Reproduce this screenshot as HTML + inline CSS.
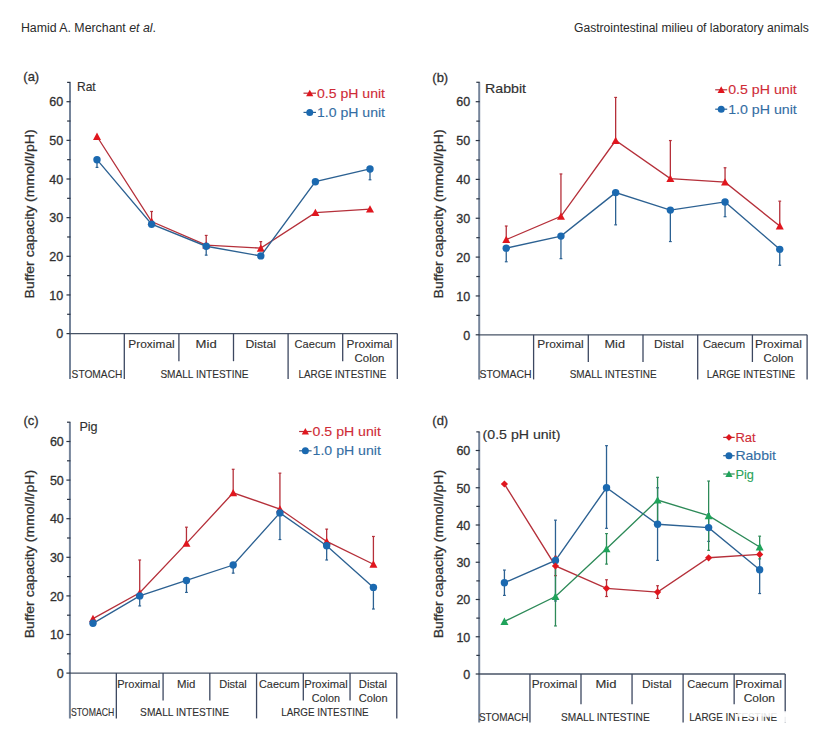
<!DOCTYPE html>
<html><head><meta charset="utf-8"><style>
html,body{margin:0;padding:0;background:#fff;width:815px;height:738px;overflow:hidden}
svg{display:block}
text{font-family:"Liberation Sans", sans-serif}
</style></head><body>
<svg width="815" height="738" viewBox="0 0 815 738" font-family='"Liberation Sans", sans-serif'>
<rect width="815" height="738" fill="#ffffff"/>
<text x="20.9" y="31.8" font-size="12" fill="#2a2a2a" textLength="135.1" lengthAdjust="spacingAndGlyphs">Hamid A. Merchant <tspan font-style="italic">et al</tspan>.</text>
<text x="574" y="31.8" font-size="12" fill="#2a2a2a" textLength="234.7" lengthAdjust="spacingAndGlyphs">Gastrointestinal milieu of laboratory animals</text>
<line x1="70.00" y1="82.38" x2="70.00" y2="379.00" stroke="#75849a" stroke-width="2.0"/>
<line x1="66.50" y1="333.60" x2="70.50" y2="333.60" stroke="#2a3444" stroke-width="1.2"/>
<line x1="67.10" y1="314.28" x2="70.50" y2="314.28" stroke="#2a3444" stroke-width="1.2"/>
<line x1="66.50" y1="294.95" x2="70.50" y2="294.95" stroke="#2a3444" stroke-width="1.2"/>
<line x1="67.10" y1="275.62" x2="70.50" y2="275.62" stroke="#2a3444" stroke-width="1.2"/>
<line x1="66.50" y1="256.30" x2="70.50" y2="256.30" stroke="#2a3444" stroke-width="1.2"/>
<line x1="67.10" y1="236.98" x2="70.50" y2="236.98" stroke="#2a3444" stroke-width="1.2"/>
<line x1="66.50" y1="217.65" x2="70.50" y2="217.65" stroke="#2a3444" stroke-width="1.2"/>
<line x1="67.10" y1="198.33" x2="70.50" y2="198.33" stroke="#2a3444" stroke-width="1.2"/>
<line x1="66.50" y1="179.00" x2="70.50" y2="179.00" stroke="#2a3444" stroke-width="1.2"/>
<line x1="67.10" y1="159.68" x2="70.50" y2="159.68" stroke="#2a3444" stroke-width="1.2"/>
<line x1="66.50" y1="140.35" x2="70.50" y2="140.35" stroke="#2a3444" stroke-width="1.2"/>
<line x1="67.10" y1="121.03" x2="70.50" y2="121.03" stroke="#2a3444" stroke-width="1.2"/>
<line x1="66.50" y1="101.70" x2="70.50" y2="101.70" stroke="#2a3444" stroke-width="1.2"/>
<line x1="67.10" y1="82.38" x2="70.50" y2="82.38" stroke="#2a3444" stroke-width="1.2"/>
<text x="63.10" y="338.35" font-size="12.5" fill="#303030" text-anchor="end" stroke="#303030" stroke-width="0.3">0</text>
<text x="63.10" y="299.70" font-size="12.5" fill="#303030" text-anchor="end" stroke="#303030" stroke-width="0.3">10</text>
<text x="63.10" y="261.05" font-size="12.5" fill="#303030" text-anchor="end" stroke="#303030" stroke-width="0.3">20</text>
<text x="63.10" y="222.40" font-size="12.5" fill="#303030" text-anchor="end" stroke="#303030" stroke-width="0.3">30</text>
<text x="63.10" y="183.75" font-size="12.5" fill="#303030" text-anchor="end" stroke="#303030" stroke-width="0.3">40</text>
<text x="63.10" y="145.10" font-size="12.5" fill="#303030" text-anchor="end" stroke="#303030" stroke-width="0.3">50</text>
<text x="63.10" y="106.45" font-size="12.5" fill="#303030" text-anchor="end" stroke="#303030" stroke-width="0.3">60</text>
<line x1="69.70" y1="333.60" x2="397.30" y2="333.60" stroke="#475366" stroke-width="1.3"/>
<line x1="124.30" y1="333.60" x2="124.30" y2="379.00" stroke="#3c4760" stroke-width="1.3"/>
<line x1="178.90" y1="333.60" x2="178.90" y2="361.20" stroke="#3c4760" stroke-width="1.3"/>
<line x1="233.50" y1="333.60" x2="233.50" y2="361.20" stroke="#3c4760" stroke-width="1.3"/>
<line x1="288.10" y1="333.60" x2="288.10" y2="379.00" stroke="#3c4760" stroke-width="1.3"/>
<line x1="342.70" y1="333.60" x2="342.70" y2="361.20" stroke="#3c4760" stroke-width="1.3"/>
<line x1="397.30" y1="333.60" x2="397.30" y2="379.00" stroke="#3c4760" stroke-width="1.3"/>
<text x="128.30" y="347.70" font-size="11.2" fill="#303030" textLength="46.4" lengthAdjust="spacingAndGlyphs" stroke="#303030" stroke-width="0.12">Proximal</text>
<text x="195.60" y="347.70" font-size="11.2" fill="#303030" textLength="21.1" lengthAdjust="spacingAndGlyphs" stroke="#303030" stroke-width="0.12">Mid</text>
<text x="245.40" y="347.70" font-size="11.2" fill="#303030" textLength="30.5" lengthAdjust="spacingAndGlyphs" stroke="#303030" stroke-width="0.12">Distal</text>
<text x="294.60" y="347.70" font-size="11.2" fill="#303030" textLength="41.2" lengthAdjust="spacingAndGlyphs" stroke="#303030" stroke-width="0.12">Caecum</text>
<text x="346.60" y="347.70" font-size="11.2" fill="#303030" textLength="45.9" lengthAdjust="spacingAndGlyphs" stroke="#303030" stroke-width="0.12">Proximal</text>
<text x="354.50" y="361.70" font-size="11.2" fill="#303030" textLength="29.9" lengthAdjust="spacingAndGlyphs" stroke="#303030" stroke-width="0.12">Colon</text>
<text x="71.60" y="378.30" font-size="11.2" fill="#303030" textLength="50.8" lengthAdjust="spacingAndGlyphs" stroke="#303030" stroke-width="0.12">STOMACH</text>
<text x="160.40" y="378.30" font-size="11.2" fill="#303030" textLength="88.2" lengthAdjust="spacingAndGlyphs" stroke="#303030" stroke-width="0.12">SMALL INTESTINE</text>
<text x="298.50" y="378.30" font-size="11.2" fill="#303030" textLength="87.8" lengthAdjust="spacingAndGlyphs" stroke="#303030" stroke-width="0.12">LARGE INTESTINE</text>
<text transform="translate(33.8,213.9) rotate(-90)" font-size="12.8" fill="#303030" stroke="#303030" stroke-width="0.25" text-anchor="middle" textLength="169" lengthAdjust="spacingAndGlyphs">Buffer capacity (mmol/l/pH)</text>
<text x="23.3" y="81.2" font-size="13" fill="#303030" stroke="#303030" stroke-width="0.3">(a)</text>
<text x="77" y="90.7" font-size="12.8" fill="#303030" textLength="18.7" lengthAdjust="spacingAndGlyphs" stroke="#303030" stroke-width="0.15">Rat</text>
<line x1="151.60" y1="221.52" x2="151.60" y2="211.47" stroke="#b5303a" stroke-width="1.3"/>
<line x1="150.20" y1="211.47" x2="153.00" y2="211.47" stroke="#b5303a" stroke-width="1.2"/>
<line x1="206.20" y1="245.09" x2="206.20" y2="235.43" stroke="#b5303a" stroke-width="1.3"/>
<line x1="204.80" y1="235.43" x2="207.60" y2="235.43" stroke="#b5303a" stroke-width="1.2"/>
<line x1="260.80" y1="248.18" x2="260.80" y2="241.61" stroke="#b5303a" stroke-width="1.3"/>
<line x1="259.40" y1="241.61" x2="262.20" y2="241.61" stroke="#b5303a" stroke-width="1.2"/>
<polyline points="97.00,136.49 151.60,221.52 206.20,245.09 260.80,248.18 315.40,212.63 370.00,209.15" fill="none" stroke="#b5303a" stroke-width="1.35"/>
<polygon points="97.00,132.58 93.00,139.94 101.00,139.94" fill="#e0161e"/>
<polygon points="151.60,217.61 147.60,224.97 155.60,224.97" fill="#e0161e"/>
<polygon points="206.20,241.19 202.20,248.55 210.20,248.55" fill="#e0161e"/>
<polygon points="260.80,244.28 256.80,251.64 264.80,251.64" fill="#e0161e"/>
<polygon points="315.40,208.72 311.40,216.08 319.40,216.08" fill="#e0161e"/>
<polygon points="370.00,205.25 366.00,212.61 374.00,212.61" fill="#e0161e"/>
<line x1="97.00" y1="159.68" x2="97.00" y2="167.41" stroke="#2c6192" stroke-width="1.3"/>
<line x1="95.60" y1="167.41" x2="98.40" y2="167.41" stroke="#2c6192" stroke-width="1.2"/>
<line x1="206.20" y1="246.25" x2="206.20" y2="255.14" stroke="#2c6192" stroke-width="1.3"/>
<line x1="204.80" y1="255.14" x2="207.60" y2="255.14" stroke="#2c6192" stroke-width="1.2"/>
<line x1="370.00" y1="168.95" x2="370.00" y2="179.77" stroke="#2c6192" stroke-width="1.3"/>
<line x1="368.60" y1="179.77" x2="371.40" y2="179.77" stroke="#2c6192" stroke-width="1.2"/>
<polyline points="97.00,159.68 151.60,224.22 206.20,246.25 260.80,255.91 315.40,181.71 370.00,168.95" fill="none" stroke="#2c6192" stroke-width="1.35"/>
<circle cx="97.00" cy="159.68" r="3.7" fill="#1b69b0"/>
<circle cx="151.60" cy="224.22" r="3.7" fill="#1b69b0"/>
<circle cx="206.20" cy="246.25" r="3.7" fill="#1b69b0"/>
<circle cx="260.80" cy="255.91" r="3.7" fill="#1b69b0"/>
<circle cx="315.40" cy="181.71" r="3.7" fill="#1b69b0"/>
<circle cx="370.00" cy="168.95" r="3.7" fill="#1b69b0"/>
<line x1="303.50" y1="93.20" x2="316.00" y2="93.20" stroke="#b5303a" stroke-width="1.2"/>
<polygon points="309.75,89.69 306.15,96.31 313.35,96.31" fill="#e0161e"/>
<text x="317.00" y="97.70" font-size="12.8" fill="#cf2b36" textLength="68" lengthAdjust="spacingAndGlyphs" stroke="#cf2b36" stroke-width="0.1">0.5 pH unit</text>
<line x1="303.50" y1="112.40" x2="316.00" y2="112.40" stroke="#2c6192" stroke-width="1.2"/>
<circle cx="309.75" cy="112.40" r="3.5" fill="#1b69b0"/>
<text x="317.00" y="116.90" font-size="12.8" fill="#336da3" textLength="68" lengthAdjust="spacingAndGlyphs" stroke="#336da3" stroke-width="0.1">1.0 pH unit</text>
<line x1="479.20" y1="82.28" x2="479.20" y2="379.40" stroke="#75849a" stroke-width="2.0"/>
<line x1="475.70" y1="334.80" x2="479.70" y2="334.80" stroke="#2a3444" stroke-width="1.2"/>
<line x1="476.30" y1="315.38" x2="479.70" y2="315.38" stroke="#2a3444" stroke-width="1.2"/>
<line x1="475.70" y1="295.95" x2="479.70" y2="295.95" stroke="#2a3444" stroke-width="1.2"/>
<line x1="476.30" y1="276.53" x2="479.70" y2="276.53" stroke="#2a3444" stroke-width="1.2"/>
<line x1="475.70" y1="257.10" x2="479.70" y2="257.10" stroke="#2a3444" stroke-width="1.2"/>
<line x1="476.30" y1="237.68" x2="479.70" y2="237.68" stroke="#2a3444" stroke-width="1.2"/>
<line x1="475.70" y1="218.25" x2="479.70" y2="218.25" stroke="#2a3444" stroke-width="1.2"/>
<line x1="476.30" y1="198.83" x2="479.70" y2="198.83" stroke="#2a3444" stroke-width="1.2"/>
<line x1="475.70" y1="179.40" x2="479.70" y2="179.40" stroke="#2a3444" stroke-width="1.2"/>
<line x1="476.30" y1="159.98" x2="479.70" y2="159.98" stroke="#2a3444" stroke-width="1.2"/>
<line x1="475.70" y1="140.55" x2="479.70" y2="140.55" stroke="#2a3444" stroke-width="1.2"/>
<line x1="476.30" y1="121.13" x2="479.70" y2="121.13" stroke="#2a3444" stroke-width="1.2"/>
<line x1="475.70" y1="101.70" x2="479.70" y2="101.70" stroke="#2a3444" stroke-width="1.2"/>
<line x1="476.30" y1="82.28" x2="479.70" y2="82.28" stroke="#2a3444" stroke-width="1.2"/>
<text x="470.10" y="339.55" font-size="12.5" fill="#303030" text-anchor="end" stroke="#303030" stroke-width="0.3">0</text>
<text x="470.10" y="300.70" font-size="12.5" fill="#303030" text-anchor="end" stroke="#303030" stroke-width="0.3">10</text>
<text x="470.10" y="261.85" font-size="12.5" fill="#303030" text-anchor="end" stroke="#303030" stroke-width="0.3">20</text>
<text x="470.10" y="223.00" font-size="12.5" fill="#303030" text-anchor="end" stroke="#303030" stroke-width="0.3">30</text>
<text x="470.10" y="184.15" font-size="12.5" fill="#303030" text-anchor="end" stroke="#303030" stroke-width="0.3">40</text>
<text x="470.10" y="145.30" font-size="12.5" fill="#303030" text-anchor="end" stroke="#303030" stroke-width="0.3">50</text>
<text x="470.10" y="106.45" font-size="12.5" fill="#303030" text-anchor="end" stroke="#303030" stroke-width="0.3">60</text>
<line x1="478.90" y1="334.80" x2="807.10" y2="334.80" stroke="#475366" stroke-width="1.3"/>
<line x1="533.60" y1="334.80" x2="533.60" y2="379.40" stroke="#3c4760" stroke-width="1.3"/>
<line x1="588.30" y1="334.80" x2="588.30" y2="362.00" stroke="#3c4760" stroke-width="1.3"/>
<line x1="643.00" y1="334.80" x2="643.00" y2="362.00" stroke="#3c4760" stroke-width="1.3"/>
<line x1="697.70" y1="334.80" x2="697.70" y2="379.40" stroke="#3c4760" stroke-width="1.3"/>
<line x1="752.40" y1="334.80" x2="752.40" y2="362.00" stroke="#3c4760" stroke-width="1.3"/>
<line x1="807.10" y1="334.80" x2="807.10" y2="379.40" stroke="#3c4760" stroke-width="1.3"/>
<text x="537.30" y="348.10" font-size="11.2" fill="#303030" textLength="46.4" lengthAdjust="spacingAndGlyphs" stroke="#303030" stroke-width="0.12">Proximal</text>
<text x="604.50" y="348.10" font-size="11.2" fill="#303030" textLength="20.5" lengthAdjust="spacingAndGlyphs" stroke="#303030" stroke-width="0.12">Mid</text>
<text x="654.10" y="348.10" font-size="11.2" fill="#303030" textLength="29.8" lengthAdjust="spacingAndGlyphs" stroke="#303030" stroke-width="0.12">Distal</text>
<text x="702.90" y="348.10" font-size="11.2" fill="#303030" textLength="42.2" lengthAdjust="spacingAndGlyphs" stroke="#303030" stroke-width="0.12">Caecum</text>
<text x="755.10" y="348.10" font-size="11.2" fill="#303030" textLength="46.7" lengthAdjust="spacingAndGlyphs" stroke="#303030" stroke-width="0.12">Proximal</text>
<text x="763.50" y="362.00" font-size="11.2" fill="#303030" textLength="29.9" lengthAdjust="spacingAndGlyphs" stroke="#303030" stroke-width="0.12">Colon</text>
<text x="479.40" y="377.60" font-size="11.2" fill="#303030" textLength="52.3" lengthAdjust="spacingAndGlyphs" stroke="#303030" stroke-width="0.12">STOMACH</text>
<text x="569.70" y="377.60" font-size="11.2" fill="#303030" textLength="87" lengthAdjust="spacingAndGlyphs" stroke="#303030" stroke-width="0.12">SMALL INTESTINE</text>
<text x="706.80" y="377.60" font-size="11.2" fill="#303030" textLength="88.4" lengthAdjust="spacingAndGlyphs" stroke="#303030" stroke-width="0.12">LARGE INTESTINE</text>
<text transform="translate(442.9,213.9) rotate(-90)" font-size="12.8" fill="#303030" stroke="#303030" stroke-width="0.25" text-anchor="middle" textLength="169" lengthAdjust="spacingAndGlyphs">Buffer capacity (mmol/l/pH)</text>
<text x="432.3" y="81.5" font-size="13" fill="#303030" stroke="#303030" stroke-width="0.3">(b)</text>
<text x="485" y="93.2" font-size="12.8" fill="#303030" textLength="41" lengthAdjust="spacingAndGlyphs" stroke="#303030" stroke-width="0.15">Rabbit</text>
<line x1="506.25" y1="239.62" x2="506.25" y2="226.02" stroke="#b5303a" stroke-width="1.3"/>
<line x1="504.85" y1="226.02" x2="507.65" y2="226.02" stroke="#b5303a" stroke-width="1.2"/>
<line x1="560.95" y1="216.31" x2="560.95" y2="173.96" stroke="#b5303a" stroke-width="1.3"/>
<line x1="559.55" y1="173.96" x2="562.35" y2="173.96" stroke="#b5303a" stroke-width="1.2"/>
<line x1="615.65" y1="140.55" x2="615.65" y2="97.43" stroke="#b5303a" stroke-width="1.3"/>
<line x1="614.25" y1="97.43" x2="617.05" y2="97.43" stroke="#b5303a" stroke-width="1.2"/>
<line x1="670.35" y1="178.62" x2="670.35" y2="140.55" stroke="#b5303a" stroke-width="1.3"/>
<line x1="668.95" y1="140.55" x2="671.75" y2="140.55" stroke="#b5303a" stroke-width="1.2"/>
<line x1="725.05" y1="182.12" x2="725.05" y2="167.75" stroke="#b5303a" stroke-width="1.3"/>
<line x1="723.65" y1="167.75" x2="726.45" y2="167.75" stroke="#b5303a" stroke-width="1.2"/>
<line x1="779.75" y1="226.02" x2="779.75" y2="201.16" stroke="#b5303a" stroke-width="1.3"/>
<line x1="778.35" y1="201.16" x2="781.15" y2="201.16" stroke="#b5303a" stroke-width="1.2"/>
<polyline points="506.25,239.62 560.95,216.31 615.65,140.55 670.35,178.62 725.05,182.12 779.75,226.02" fill="none" stroke="#b5303a" stroke-width="1.35"/>
<polygon points="506.25,235.72 502.25,243.08 510.25,243.08" fill="#e0161e"/>
<polygon points="560.95,212.41 556.95,219.77 564.95,219.77" fill="#e0161e"/>
<polygon points="615.65,136.65 611.65,144.01 619.65,144.01" fill="#e0161e"/>
<polygon points="670.35,174.72 666.35,182.08 674.35,182.08" fill="#e0161e"/>
<polygon points="725.05,178.22 721.05,185.58 729.05,185.58" fill="#e0161e"/>
<polygon points="779.75,222.12 775.75,229.48 783.75,229.48" fill="#e0161e"/>
<line x1="506.25" y1="248.16" x2="506.25" y2="261.76" stroke="#2c6192" stroke-width="1.3"/>
<line x1="504.85" y1="261.76" x2="507.65" y2="261.76" stroke="#2c6192" stroke-width="1.2"/>
<line x1="560.95" y1="236.12" x2="560.95" y2="258.65" stroke="#2c6192" stroke-width="1.3"/>
<line x1="559.55" y1="258.65" x2="562.35" y2="258.65" stroke="#2c6192" stroke-width="1.2"/>
<line x1="615.65" y1="192.61" x2="615.65" y2="224.85" stroke="#2c6192" stroke-width="1.3"/>
<line x1="614.25" y1="224.85" x2="617.05" y2="224.85" stroke="#2c6192" stroke-width="1.2"/>
<line x1="670.35" y1="210.09" x2="670.35" y2="241.56" stroke="#2c6192" stroke-width="1.3"/>
<line x1="668.95" y1="241.56" x2="671.75" y2="241.56" stroke="#2c6192" stroke-width="1.2"/>
<line x1="725.05" y1="201.93" x2="725.05" y2="216.70" stroke="#2c6192" stroke-width="1.3"/>
<line x1="723.65" y1="216.70" x2="726.45" y2="216.70" stroke="#2c6192" stroke-width="1.2"/>
<line x1="779.75" y1="249.33" x2="779.75" y2="265.26" stroke="#2c6192" stroke-width="1.3"/>
<line x1="778.35" y1="265.26" x2="781.15" y2="265.26" stroke="#2c6192" stroke-width="1.2"/>
<polyline points="506.25,248.16 560.95,236.12 615.65,192.61 670.35,210.09 725.05,201.93 779.75,249.33" fill="none" stroke="#2c6192" stroke-width="1.35"/>
<circle cx="506.25" cy="248.16" r="3.7" fill="#1b69b0"/>
<circle cx="560.95" cy="236.12" r="3.7" fill="#1b69b0"/>
<circle cx="615.65" cy="192.61" r="3.7" fill="#1b69b0"/>
<circle cx="670.35" cy="210.09" r="3.7" fill="#1b69b0"/>
<circle cx="725.05" cy="201.93" r="3.7" fill="#1b69b0"/>
<circle cx="779.75" cy="249.33" r="3.7" fill="#1b69b0"/>
<line x1="715.20" y1="89.80" x2="727.20" y2="89.80" stroke="#b5303a" stroke-width="1.2"/>
<polygon points="721.20,86.29 717.60,92.91 724.80,92.91" fill="#e0161e"/>
<text x="728.20" y="94.30" font-size="12.8" fill="#cf2b36" textLength="68.6" lengthAdjust="spacingAndGlyphs" stroke="#cf2b36" stroke-width="0.1">0.5 pH unit</text>
<line x1="715.20" y1="109.20" x2="727.20" y2="109.20" stroke="#2c6192" stroke-width="1.2"/>
<circle cx="721.20" cy="109.20" r="3.5" fill="#1b69b0"/>
<text x="728.20" y="113.70" font-size="12.8" fill="#336da3" textLength="68.6" lengthAdjust="spacingAndGlyphs" stroke="#336da3" stroke-width="0.1">1.0 pH unit</text>
<line x1="69.90" y1="422.20" x2="69.90" y2="718.40" stroke="#75849a" stroke-width="2.0"/>
<line x1="66.40" y1="673.10" x2="70.40" y2="673.10" stroke="#2a3444" stroke-width="1.2"/>
<line x1="67.00" y1="653.80" x2="70.40" y2="653.80" stroke="#2a3444" stroke-width="1.2"/>
<line x1="66.40" y1="634.50" x2="70.40" y2="634.50" stroke="#2a3444" stroke-width="1.2"/>
<line x1="67.00" y1="615.20" x2="70.40" y2="615.20" stroke="#2a3444" stroke-width="1.2"/>
<line x1="66.40" y1="595.90" x2="70.40" y2="595.90" stroke="#2a3444" stroke-width="1.2"/>
<line x1="67.00" y1="576.60" x2="70.40" y2="576.60" stroke="#2a3444" stroke-width="1.2"/>
<line x1="66.40" y1="557.30" x2="70.40" y2="557.30" stroke="#2a3444" stroke-width="1.2"/>
<line x1="67.00" y1="538.00" x2="70.40" y2="538.00" stroke="#2a3444" stroke-width="1.2"/>
<line x1="66.40" y1="518.70" x2="70.40" y2="518.70" stroke="#2a3444" stroke-width="1.2"/>
<line x1="67.00" y1="499.40" x2="70.40" y2="499.40" stroke="#2a3444" stroke-width="1.2"/>
<line x1="66.40" y1="480.10" x2="70.40" y2="480.10" stroke="#2a3444" stroke-width="1.2"/>
<line x1="67.00" y1="460.80" x2="70.40" y2="460.80" stroke="#2a3444" stroke-width="1.2"/>
<line x1="66.40" y1="441.50" x2="70.40" y2="441.50" stroke="#2a3444" stroke-width="1.2"/>
<line x1="67.00" y1="422.20" x2="70.40" y2="422.20" stroke="#2a3444" stroke-width="1.2"/>
<text x="63.80" y="677.85" font-size="12.5" fill="#303030" text-anchor="end" stroke="#303030" stroke-width="0.3">0</text>
<text x="63.80" y="639.25" font-size="12.5" fill="#303030" text-anchor="end" stroke="#303030" stroke-width="0.3">10</text>
<text x="63.80" y="600.65" font-size="12.5" fill="#303030" text-anchor="end" stroke="#303030" stroke-width="0.3">20</text>
<text x="63.80" y="562.05" font-size="12.5" fill="#303030" text-anchor="end" stroke="#303030" stroke-width="0.3">30</text>
<text x="63.80" y="523.45" font-size="12.5" fill="#303030" text-anchor="end" stroke="#303030" stroke-width="0.3">40</text>
<text x="63.80" y="484.85" font-size="12.5" fill="#303030" text-anchor="end" stroke="#303030" stroke-width="0.3">50</text>
<text x="63.80" y="446.25" font-size="12.5" fill="#303030" text-anchor="end" stroke="#303030" stroke-width="0.3">60</text>
<line x1="69.60" y1="673.10" x2="396.78" y2="673.10" stroke="#475366" stroke-width="1.3"/>
<line x1="116.34" y1="673.10" x2="116.34" y2="718.40" stroke="#3c4760" stroke-width="1.3"/>
<line x1="163.08" y1="673.10" x2="163.08" y2="700.60" stroke="#3c4760" stroke-width="1.3"/>
<line x1="209.82" y1="673.10" x2="209.82" y2="700.60" stroke="#3c4760" stroke-width="1.3"/>
<line x1="256.56" y1="673.10" x2="256.56" y2="718.40" stroke="#3c4760" stroke-width="1.3"/>
<line x1="303.30" y1="673.10" x2="303.30" y2="700.60" stroke="#3c4760" stroke-width="1.3"/>
<line x1="350.04" y1="673.10" x2="350.04" y2="700.60" stroke="#3c4760" stroke-width="1.3"/>
<line x1="396.78" y1="673.10" x2="396.78" y2="718.40" stroke="#3c4760" stroke-width="1.3"/>
<text x="117.20" y="688.30" font-size="11.2" fill="#303030" textLength="43" lengthAdjust="spacingAndGlyphs" stroke="#303030" stroke-width="0.12">Proximal</text>
<text x="176.90" y="688.30" font-size="11.2" fill="#303030" textLength="18.4" lengthAdjust="spacingAndGlyphs" stroke="#303030" stroke-width="0.12">Mid</text>
<text x="219.20" y="688.30" font-size="11.2" fill="#303030" textLength="27.6" lengthAdjust="spacingAndGlyphs" stroke="#303030" stroke-width="0.12">Distal</text>
<text x="259.00" y="688.30" font-size="11.2" fill="#303030" textLength="40.6" lengthAdjust="spacingAndGlyphs" stroke="#303030" stroke-width="0.12">Caecum</text>
<text x="304.20" y="688.30" font-size="11.2" fill="#303030" textLength="43.5" lengthAdjust="spacingAndGlyphs" stroke="#303030" stroke-width="0.12">Proximal</text>
<text x="311.80" y="702.30" font-size="11.2" fill="#303030" textLength="28.2" lengthAdjust="spacingAndGlyphs" stroke="#303030" stroke-width="0.12">Colon</text>
<text x="358.80" y="688.30" font-size="11.2" fill="#303030" textLength="28.2" lengthAdjust="spacingAndGlyphs" stroke="#303030" stroke-width="0.12">Distal</text>
<text x="358.80" y="702.30" font-size="11.2" fill="#303030" textLength="28.8" lengthAdjust="spacingAndGlyphs" stroke="#303030" stroke-width="0.12">Colon</text>
<text x="70.90" y="716.20" font-size="11.2" fill="#303030" textLength="43.4" lengthAdjust="spacingAndGlyphs" stroke="#303030" stroke-width="0.12">STOMACH</text>
<text x="140.10" y="716.20" font-size="11.2" fill="#303030" textLength="88.9" lengthAdjust="spacingAndGlyphs" stroke="#303030" stroke-width="0.12">SMALL INTESTINE</text>
<text x="281.20" y="716.20" font-size="11.2" fill="#303030" textLength="87.4" lengthAdjust="spacingAndGlyphs" stroke="#303030" stroke-width="0.12">LARGE INTESTINE</text>
<text transform="translate(33.6,554.1) rotate(-90)" font-size="12.8" fill="#303030" stroke="#303030" stroke-width="0.25" text-anchor="middle" textLength="168.4" lengthAdjust="spacingAndGlyphs">Buffer capacity (mmol/l/pH)</text>
<text x="23.5" y="425" font-size="13" fill="#303030" stroke="#303030" stroke-width="0.3">(c)</text>
<text x="79.4" y="431.2" font-size="12.8" fill="#303030" textLength="18.2" lengthAdjust="spacingAndGlyphs" stroke="#303030" stroke-width="0.15">Pig</text>
<line x1="139.71" y1="592.81" x2="139.71" y2="560.00" stroke="#b5303a" stroke-width="1.3"/>
<line x1="138.31" y1="560.00" x2="141.11" y2="560.00" stroke="#b5303a" stroke-width="1.2"/>
<line x1="186.45" y1="543.40" x2="186.45" y2="527.19" stroke="#b5303a" stroke-width="1.3"/>
<line x1="185.05" y1="527.19" x2="187.85" y2="527.19" stroke="#b5303a" stroke-width="1.2"/>
<line x1="233.19" y1="492.84" x2="233.19" y2="469.29" stroke="#b5303a" stroke-width="1.3"/>
<line x1="231.79" y1="469.29" x2="234.59" y2="469.29" stroke="#b5303a" stroke-width="1.2"/>
<line x1="279.93" y1="509.05" x2="279.93" y2="473.15" stroke="#b5303a" stroke-width="1.3"/>
<line x1="278.53" y1="473.15" x2="281.33" y2="473.15" stroke="#b5303a" stroke-width="1.2"/>
<line x1="326.67" y1="541.47" x2="326.67" y2="529.12" stroke="#b5303a" stroke-width="1.3"/>
<line x1="325.27" y1="529.12" x2="328.07" y2="529.12" stroke="#b5303a" stroke-width="1.2"/>
<line x1="373.41" y1="564.25" x2="373.41" y2="536.46" stroke="#b5303a" stroke-width="1.3"/>
<line x1="372.01" y1="536.46" x2="374.81" y2="536.46" stroke="#b5303a" stroke-width="1.2"/>
<polyline points="92.97,618.67 139.71,592.81 186.45,543.40 233.19,492.84 279.93,509.05 326.67,541.47 373.41,564.25" fill="none" stroke="#b5303a" stroke-width="1.35"/>
<polygon points="92.97,614.77 88.97,622.13 96.97,622.13" fill="#e0161e"/>
<polygon points="139.71,588.91 135.71,596.27 143.71,596.27" fill="#e0161e"/>
<polygon points="186.45,539.50 182.45,546.86 190.45,546.86" fill="#e0161e"/>
<polygon points="233.19,488.94 229.19,496.30 237.19,496.30" fill="#e0161e"/>
<polygon points="279.93,505.15 275.93,512.51 283.93,512.51" fill="#e0161e"/>
<polygon points="326.67,537.57 322.67,544.93 330.67,544.93" fill="#e0161e"/>
<polygon points="373.41,560.35 369.41,567.71 377.41,567.71" fill="#e0161e"/>
<line x1="139.71" y1="595.90" x2="139.71" y2="605.94" stroke="#2c6192" stroke-width="1.3"/>
<line x1="138.31" y1="605.94" x2="141.11" y2="605.94" stroke="#2c6192" stroke-width="1.2"/>
<line x1="186.45" y1="580.46" x2="186.45" y2="592.43" stroke="#2c6192" stroke-width="1.3"/>
<line x1="185.05" y1="592.43" x2="187.85" y2="592.43" stroke="#2c6192" stroke-width="1.2"/>
<line x1="233.19" y1="565.02" x2="233.19" y2="573.13" stroke="#2c6192" stroke-width="1.3"/>
<line x1="231.79" y1="573.13" x2="234.59" y2="573.13" stroke="#2c6192" stroke-width="1.2"/>
<line x1="279.93" y1="512.91" x2="279.93" y2="539.54" stroke="#2c6192" stroke-width="1.3"/>
<line x1="278.53" y1="539.54" x2="281.33" y2="539.54" stroke="#2c6192" stroke-width="1.2"/>
<line x1="326.67" y1="545.72" x2="326.67" y2="560.00" stroke="#2c6192" stroke-width="1.3"/>
<line x1="325.27" y1="560.00" x2="328.07" y2="560.00" stroke="#2c6192" stroke-width="1.2"/>
<line x1="373.41" y1="587.41" x2="373.41" y2="609.02" stroke="#2c6192" stroke-width="1.3"/>
<line x1="372.01" y1="609.02" x2="374.81" y2="609.02" stroke="#2c6192" stroke-width="1.2"/>
<polyline points="92.97,623.31 139.71,595.90 186.45,580.46 233.19,565.02 279.93,512.91 326.67,545.72 373.41,587.41" fill="none" stroke="#2c6192" stroke-width="1.35"/>
<circle cx="92.97" cy="623.31" r="3.7" fill="#1b69b0"/>
<circle cx="139.71" cy="595.90" r="3.7" fill="#1b69b0"/>
<circle cx="186.45" cy="580.46" r="3.7" fill="#1b69b0"/>
<circle cx="233.19" cy="565.02" r="3.7" fill="#1b69b0"/>
<circle cx="279.93" cy="512.91" r="3.7" fill="#1b69b0"/>
<circle cx="326.67" cy="545.72" r="3.7" fill="#1b69b0"/>
<circle cx="373.41" cy="587.41" r="3.7" fill="#1b69b0"/>
<line x1="299.10" y1="431.50" x2="311.60" y2="431.50" stroke="#b5303a" stroke-width="1.2"/>
<polygon points="305.35,427.99 301.75,434.61 308.95,434.61" fill="#e0161e"/>
<text x="312.60" y="436.00" font-size="12.8" fill="#cf2b36" textLength="68.3" lengthAdjust="spacingAndGlyphs" stroke="#cf2b36" stroke-width="0.1">0.5 pH unit</text>
<line x1="299.10" y1="450.80" x2="311.60" y2="450.80" stroke="#2c6192" stroke-width="1.2"/>
<circle cx="305.35" cy="450.80" r="3.5" fill="#1b69b0"/>
<text x="312.60" y="455.30" font-size="12.8" fill="#336da3" textLength="68.3" lengthAdjust="spacingAndGlyphs" stroke="#336da3" stroke-width="0.1">1.0 pH unit</text>
<line x1="479.20" y1="431.88" x2="479.20" y2="722.40" stroke="#75849a" stroke-width="2.0"/>
<line x1="475.70" y1="674.00" x2="479.70" y2="674.00" stroke="#2a3444" stroke-width="1.2"/>
<line x1="476.30" y1="655.38" x2="479.70" y2="655.38" stroke="#2a3444" stroke-width="1.2"/>
<line x1="475.70" y1="636.75" x2="479.70" y2="636.75" stroke="#2a3444" stroke-width="1.2"/>
<line x1="476.30" y1="618.12" x2="479.70" y2="618.12" stroke="#2a3444" stroke-width="1.2"/>
<line x1="475.70" y1="599.50" x2="479.70" y2="599.50" stroke="#2a3444" stroke-width="1.2"/>
<line x1="476.30" y1="580.88" x2="479.70" y2="580.88" stroke="#2a3444" stroke-width="1.2"/>
<line x1="475.70" y1="562.25" x2="479.70" y2="562.25" stroke="#2a3444" stroke-width="1.2"/>
<line x1="476.30" y1="543.62" x2="479.70" y2="543.62" stroke="#2a3444" stroke-width="1.2"/>
<line x1="475.70" y1="525.00" x2="479.70" y2="525.00" stroke="#2a3444" stroke-width="1.2"/>
<line x1="476.30" y1="506.38" x2="479.70" y2="506.38" stroke="#2a3444" stroke-width="1.2"/>
<line x1="475.70" y1="487.75" x2="479.70" y2="487.75" stroke="#2a3444" stroke-width="1.2"/>
<line x1="476.30" y1="469.12" x2="479.70" y2="469.12" stroke="#2a3444" stroke-width="1.2"/>
<line x1="475.70" y1="450.50" x2="479.70" y2="450.50" stroke="#2a3444" stroke-width="1.2"/>
<line x1="476.30" y1="431.88" x2="479.70" y2="431.88" stroke="#2a3444" stroke-width="1.2"/>
<text x="470.30" y="678.75" font-size="12.5" fill="#303030" text-anchor="end" stroke="#303030" stroke-width="0.3">0</text>
<text x="470.30" y="641.50" font-size="12.5" fill="#303030" text-anchor="end" stroke="#303030" stroke-width="0.3">10</text>
<text x="470.30" y="604.25" font-size="12.5" fill="#303030" text-anchor="end" stroke="#303030" stroke-width="0.3">20</text>
<text x="470.30" y="567.00" font-size="12.5" fill="#303030" text-anchor="end" stroke="#303030" stroke-width="0.3">30</text>
<text x="470.30" y="529.75" font-size="12.5" fill="#303030" text-anchor="end" stroke="#303030" stroke-width="0.3">40</text>
<text x="470.30" y="492.50" font-size="12.5" fill="#303030" text-anchor="end" stroke="#303030" stroke-width="0.3">50</text>
<text x="470.30" y="455.25" font-size="12.5" fill="#303030" text-anchor="end" stroke="#303030" stroke-width="0.3">60</text>
<line x1="478.90" y1="674.00" x2="785.20" y2="674.00" stroke="#475366" stroke-width="1.3"/>
<line x1="529.95" y1="674.00" x2="529.95" y2="722.40" stroke="#3c4760" stroke-width="1.3"/>
<line x1="581.00" y1="674.00" x2="581.00" y2="704.30" stroke="#3c4760" stroke-width="1.3"/>
<line x1="632.05" y1="674.00" x2="632.05" y2="704.30" stroke="#3c4760" stroke-width="1.3"/>
<line x1="683.10" y1="674.00" x2="683.10" y2="722.40" stroke="#3c4760" stroke-width="1.3"/>
<line x1="734.15" y1="674.00" x2="734.15" y2="704.30" stroke="#3c4760" stroke-width="1.3"/>
<line x1="785.20" y1="674.00" x2="785.20" y2="722.40" stroke="#3c4760" stroke-width="1.3"/>
<text x="531.70" y="687.80" font-size="11.2" fill="#303030" textLength="45.8" lengthAdjust="spacingAndGlyphs" stroke="#303030" stroke-width="0.12">Proximal</text>
<text x="595.50" y="687.80" font-size="11.2" fill="#303030" textLength="21" lengthAdjust="spacingAndGlyphs" stroke="#303030" stroke-width="0.12">Mid</text>
<text x="642.10" y="687.80" font-size="11.2" fill="#303030" textLength="29.5" lengthAdjust="spacingAndGlyphs" stroke="#303030" stroke-width="0.12">Distal</text>
<text x="687.20" y="687.80" font-size="11.2" fill="#303030" textLength="41.2" lengthAdjust="spacingAndGlyphs" stroke="#303030" stroke-width="0.12">Caecum</text>
<text x="735.30" y="687.80" font-size="11.2" fill="#303030" textLength="46.6" lengthAdjust="spacingAndGlyphs" stroke="#303030" stroke-width="0.12">Proximal</text>
<text x="743.70" y="701.60" font-size="11.2" fill="#303030" textLength="31.3" lengthAdjust="spacingAndGlyphs" stroke="#303030" stroke-width="0.12">Colon</text>
<text x="478.90" y="721.20" font-size="11.2" fill="#303030" textLength="49.6" lengthAdjust="spacingAndGlyphs" stroke="#303030" stroke-width="0.12">STOMACH</text>
<text x="561.10" y="721.20" font-size="11.2" fill="#303030" textLength="88.6" lengthAdjust="spacingAndGlyphs" stroke="#303030" stroke-width="0.12">SMALL INTESTINE</text>
<text x="689.30" y="721.20" font-size="11.2" fill="#303030" textLength="87.8" lengthAdjust="spacingAndGlyphs" stroke="#303030" stroke-width="0.12">LARGE INTESTINE</text>
<text transform="translate(442.7,554.1) rotate(-90)" font-size="12.8" fill="#303030" stroke="#303030" stroke-width="0.25" text-anchor="middle" textLength="168.4" lengthAdjust="spacingAndGlyphs">Buffer capacity (mmol/l/pH)</text>
<text x="432.3" y="425" font-size="13" fill="#303030" stroke="#303030" stroke-width="0.3">(d)</text>
<text x="482.6" y="439" font-size="12.8" fill="#303030" textLength="77.8" lengthAdjust="spacingAndGlyphs" stroke="#303030" stroke-width="0.15">(0.5 pH unit)</text>
<line x1="504.42" y1="582.74" x2="504.42" y2="570.07" stroke="#2c6192" stroke-width="1.3"/>
<line x1="503.02" y1="570.07" x2="505.82" y2="570.07" stroke="#2c6192" stroke-width="1.2"/>
<line x1="504.42" y1="582.74" x2="504.42" y2="595.40" stroke="#2c6192" stroke-width="1.3"/>
<line x1="503.02" y1="595.40" x2="505.82" y2="595.40" stroke="#2c6192" stroke-width="1.2"/>
<line x1="555.47" y1="560.39" x2="555.47" y2="520.16" stroke="#2c6192" stroke-width="1.3"/>
<line x1="554.07" y1="520.16" x2="556.87" y2="520.16" stroke="#2c6192" stroke-width="1.2"/>
<line x1="555.47" y1="560.39" x2="555.47" y2="600.99" stroke="#2c6192" stroke-width="1.3"/>
<line x1="554.07" y1="600.99" x2="556.87" y2="600.99" stroke="#2c6192" stroke-width="1.2"/>
<line x1="606.52" y1="487.75" x2="606.52" y2="445.66" stroke="#2c6192" stroke-width="1.3"/>
<line x1="605.12" y1="445.66" x2="607.92" y2="445.66" stroke="#2c6192" stroke-width="1.2"/>
<line x1="606.52" y1="487.75" x2="606.52" y2="528.35" stroke="#2c6192" stroke-width="1.3"/>
<line x1="605.12" y1="528.35" x2="607.92" y2="528.35" stroke="#2c6192" stroke-width="1.2"/>
<line x1="657.57" y1="524.25" x2="657.57" y2="487.75" stroke="#2c6192" stroke-width="1.3"/>
<line x1="656.17" y1="487.75" x2="658.97" y2="487.75" stroke="#2c6192" stroke-width="1.2"/>
<line x1="657.57" y1="524.25" x2="657.57" y2="560.39" stroke="#2c6192" stroke-width="1.3"/>
<line x1="656.17" y1="560.39" x2="658.97" y2="560.39" stroke="#2c6192" stroke-width="1.2"/>
<line x1="708.62" y1="527.61" x2="708.62" y2="513.83" stroke="#2c6192" stroke-width="1.3"/>
<line x1="707.23" y1="513.83" x2="710.02" y2="513.83" stroke="#2c6192" stroke-width="1.2"/>
<line x1="708.62" y1="527.61" x2="708.62" y2="541.39" stroke="#2c6192" stroke-width="1.3"/>
<line x1="707.23" y1="541.39" x2="710.02" y2="541.39" stroke="#2c6192" stroke-width="1.2"/>
<line x1="759.67" y1="569.70" x2="759.67" y2="545.86" stroke="#2c6192" stroke-width="1.3"/>
<line x1="758.27" y1="545.86" x2="761.07" y2="545.86" stroke="#2c6192" stroke-width="1.2"/>
<line x1="759.67" y1="569.70" x2="759.67" y2="593.54" stroke="#2c6192" stroke-width="1.3"/>
<line x1="758.27" y1="593.54" x2="761.07" y2="593.54" stroke="#2c6192" stroke-width="1.2"/>
<polyline points="504.42,582.74 555.47,560.39 606.52,487.75 657.57,524.25 708.62,527.61 759.67,569.70" fill="none" stroke="#2c6192" stroke-width="1.35"/>
<line x1="555.47" y1="565.98" x2="555.47" y2="556.29" stroke="#b5303a" stroke-width="1.3"/>
<line x1="554.07" y1="556.29" x2="556.87" y2="556.29" stroke="#b5303a" stroke-width="1.2"/>
<line x1="555.47" y1="565.98" x2="555.47" y2="575.66" stroke="#b5303a" stroke-width="1.3"/>
<line x1="554.07" y1="575.66" x2="556.87" y2="575.66" stroke="#b5303a" stroke-width="1.2"/>
<line x1="606.52" y1="588.33" x2="606.52" y2="579.76" stroke="#b5303a" stroke-width="1.3"/>
<line x1="605.12" y1="579.76" x2="607.92" y2="579.76" stroke="#b5303a" stroke-width="1.2"/>
<line x1="606.52" y1="588.33" x2="606.52" y2="596.52" stroke="#b5303a" stroke-width="1.3"/>
<line x1="605.12" y1="596.52" x2="607.92" y2="596.52" stroke="#b5303a" stroke-width="1.2"/>
<line x1="657.57" y1="592.05" x2="657.57" y2="585.72" stroke="#b5303a" stroke-width="1.3"/>
<line x1="656.17" y1="585.72" x2="658.97" y2="585.72" stroke="#b5303a" stroke-width="1.2"/>
<line x1="657.57" y1="592.05" x2="657.57" y2="598.38" stroke="#b5303a" stroke-width="1.3"/>
<line x1="656.17" y1="598.38" x2="658.97" y2="598.38" stroke="#b5303a" stroke-width="1.2"/>
<polyline points="504.42,484.02 555.47,565.98 606.52,588.33 657.57,592.05 708.62,557.78 759.67,554.43" fill="none" stroke="#b5303a" stroke-width="1.35"/>
<line x1="555.47" y1="596.52" x2="555.47" y2="564.86" stroke="#2d8a58" stroke-width="1.3"/>
<line x1="554.07" y1="564.86" x2="556.87" y2="564.86" stroke="#2d8a58" stroke-width="1.2"/>
<line x1="555.47" y1="596.52" x2="555.47" y2="625.95" stroke="#2d8a58" stroke-width="1.3"/>
<line x1="554.07" y1="625.95" x2="556.87" y2="625.95" stroke="#2d8a58" stroke-width="1.2"/>
<line x1="606.52" y1="548.84" x2="606.52" y2="533.57" stroke="#2d8a58" stroke-width="1.3"/>
<line x1="605.12" y1="533.57" x2="607.92" y2="533.57" stroke="#2d8a58" stroke-width="1.2"/>
<line x1="606.52" y1="548.84" x2="606.52" y2="564.11" stroke="#2d8a58" stroke-width="1.3"/>
<line x1="605.12" y1="564.11" x2="607.92" y2="564.11" stroke="#2d8a58" stroke-width="1.2"/>
<line x1="657.57" y1="500.04" x2="657.57" y2="477.32" stroke="#2d8a58" stroke-width="1.3"/>
<line x1="656.17" y1="477.32" x2="658.97" y2="477.32" stroke="#2d8a58" stroke-width="1.2"/>
<line x1="657.57" y1="500.04" x2="657.57" y2="522.76" stroke="#2d8a58" stroke-width="1.3"/>
<line x1="656.17" y1="522.76" x2="658.97" y2="522.76" stroke="#2d8a58" stroke-width="1.2"/>
<line x1="708.62" y1="515.69" x2="708.62" y2="481.05" stroke="#2d8a58" stroke-width="1.3"/>
<line x1="707.23" y1="481.05" x2="710.02" y2="481.05" stroke="#2d8a58" stroke-width="1.2"/>
<line x1="708.62" y1="515.69" x2="708.62" y2="550.33" stroke="#2d8a58" stroke-width="1.3"/>
<line x1="707.23" y1="550.33" x2="710.02" y2="550.33" stroke="#2d8a58" stroke-width="1.2"/>
<line x1="759.67" y1="546.98" x2="759.67" y2="536.17" stroke="#2d8a58" stroke-width="1.3"/>
<line x1="758.27" y1="536.17" x2="761.07" y2="536.17" stroke="#2d8a58" stroke-width="1.2"/>
<line x1="759.67" y1="546.98" x2="759.67" y2="558.90" stroke="#2d8a58" stroke-width="1.3"/>
<line x1="758.27" y1="558.90" x2="761.07" y2="558.90" stroke="#2d8a58" stroke-width="1.2"/>
<polyline points="504.42,621.48 555.47,596.52 606.52,548.84 657.57,500.04 708.62,515.69 759.67,546.98" fill="none" stroke="#2d8a58" stroke-width="1.35"/>
<circle cx="504.42" cy="582.74" r="3.7" fill="#1b69b0"/>
<circle cx="555.47" cy="560.39" r="3.7" fill="#1b69b0"/>
<circle cx="606.52" cy="487.75" r="3.7" fill="#1b69b0"/>
<circle cx="657.57" cy="524.25" r="3.7" fill="#1b69b0"/>
<circle cx="708.62" cy="527.61" r="3.7" fill="#1b69b0"/>
<circle cx="759.67" cy="569.70" r="3.7" fill="#1b69b0"/>
<polygon points="504.42,480.42 508.02,484.02 504.42,487.62 500.82,484.02" fill="#e0161e"/>
<polygon points="555.47,562.38 559.07,565.98 555.47,569.58 551.87,565.98" fill="#e0161e"/>
<polygon points="606.52,584.73 610.12,588.33 606.52,591.93 602.92,588.33" fill="#e0161e"/>
<polygon points="657.57,588.45 661.17,592.05 657.57,595.65 653.97,592.05" fill="#e0161e"/>
<polygon points="708.62,554.18 712.23,557.78 708.62,561.38 705.02,557.78" fill="#e0161e"/>
<polygon points="759.67,550.83 763.27,554.43 759.67,558.03 756.07,554.43" fill="#e0161e"/>
<polygon points="504.42,617.58 500.42,624.94 508.42,624.94" fill="#1fa35a"/>
<polygon points="555.47,592.62 551.47,599.98 559.47,599.98" fill="#1fa35a"/>
<polygon points="606.52,544.94 602.52,552.30 610.52,552.30" fill="#1fa35a"/>
<polygon points="657.57,496.14 653.57,503.50 661.57,503.50" fill="#1fa35a"/>
<polygon points="708.62,511.79 704.62,519.15 712.62,519.15" fill="#1fa35a"/>
<polygon points="759.67,543.08 755.67,550.44 763.67,550.44" fill="#1fa35a"/>
<line x1="723.20" y1="437.40" x2="734.70" y2="437.40" stroke="#b5303a" stroke-width="1.2"/>
<polygon points="728.95,434.00 732.35,437.40 728.95,440.80 725.55,437.40" fill="#e0161e"/>
<text x="735.40" y="441.90" font-size="12.8" fill="#cf2b36" textLength="20.3" lengthAdjust="spacingAndGlyphs" stroke="#cf2b36" stroke-width="0.1">Rat</text>
<line x1="723.20" y1="455.70" x2="734.70" y2="455.70" stroke="#2c6192" stroke-width="1.2"/>
<circle cx="728.95" cy="455.70" r="3.5" fill="#1b69b0"/>
<text x="735.40" y="460.20" font-size="12.8" fill="#336da3" textLength="40.6" lengthAdjust="spacingAndGlyphs" stroke="#336da3" stroke-width="0.1">Rabbit</text>
<line x1="723.20" y1="474.00" x2="734.70" y2="474.00" stroke="#2d8a58" stroke-width="1.2"/>
<polygon points="728.95,470.49 725.35,477.11 732.55,477.11" fill="#1fa35a"/>
<text x="735.40" y="478.50" font-size="12.8" fill="#2aa35a" stroke="#2aa35a" stroke-width="0.1">Pig</text>
<g fill="#ffffff">
<rect x="737.5" y="711.2" width="52" height="5.6" opacity="0.88"/>
<rect x="758" y="716.8" width="5" height="5" opacity="0.7"/>
<rect x="778" y="716.8" width="3" height="5" opacity="0.5"/>
<rect x="783.5" y="712.5" width="4" height="10" opacity="0.9"/>
</g>
</svg>
</body></html>
